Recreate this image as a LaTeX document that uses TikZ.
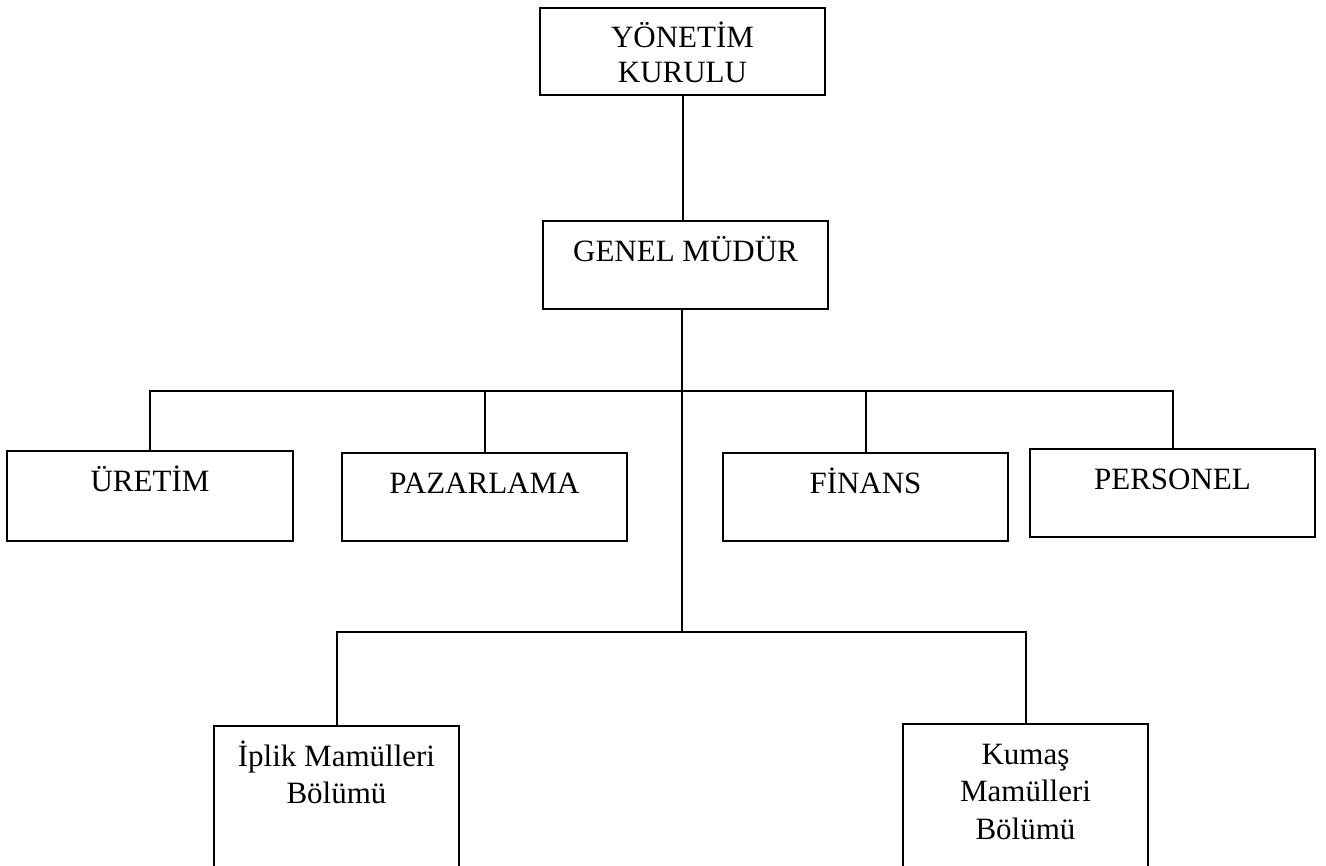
\documentclass[tikz,border=0pt]{standalone}
\usepackage{fontspec}
\setmainfont{Liberation Serif}
\newlength{\pxu}\setlength{\pxu}{0.4pt}
\newcommand{\boxtext}[3]{\parbox[t][#2\pxu][t]{#1\pxu}{\centering\rule{0pt}{40\pxu}#3}}
\tikzset{
  unit/.style={draw, line width=0.8pt, inner sep=0pt, anchor=north west,
    font=\fontsize{12.4}{15}\selectfont},
  link/.style={line width=0.8pt},
}
\begin{document}
\begin{tikzpicture}[x=0.4pt,y=-0.4pt]
\useasboundingbox (0,0) rectangle (1326,866);
%%% top of the chart
\node[unit, font=\fontsize{12.4}{14}\selectfont] (yk) at (539,7) {\boxtext{285}{87}{YÖNETİM\\KURULU}};
\node[unit] (gm) at (542,220) {\boxtext{285}{88}{GENEL MÜDÜR}};
%%% departments
\node[unit] (ur) at (6,450) {\boxtext{286}{90}{ÜRETİM}};
\node[unit] (pa) at (341,452) {\boxtext{285}{88}{PAZARLAMA}};
\node[unit] (fi) at (722,452) {\boxtext{285}{88}{FİNANS}};
\node[unit] (pe) at (1029,448) {\boxtext{285}{88}{PERSONEL}};
%%% product divisions
\node[unit] (ip) at (213,725) {\boxtext{245}{150}{İplik Mamülleri\\Bölümü}};
\node[unit] (ku) at (902,723) {\boxtext{245}{150}{Kumaş\\Mamülleri\\Bölümü}};
%%%%%%%%%%
\coordinate (hub) at (682,391);
\coordinate (hub2) at (682,632);
\draw[link] (yk.south) -- (yk.south |- gm.north);
\draw[link] (gm.south -| hub) -- (hub2);
\draw[link] (ur.north) |- (hub) -| (pe.north);
\draw[link] (pa.north) -- (pa.north |- hub);
\draw[link] (fi.north) -- (fi.north |- hub);
\draw[link] (ip.north) |- (hub2) -| (ku.north);
\end{tikzpicture}
\end{document}
